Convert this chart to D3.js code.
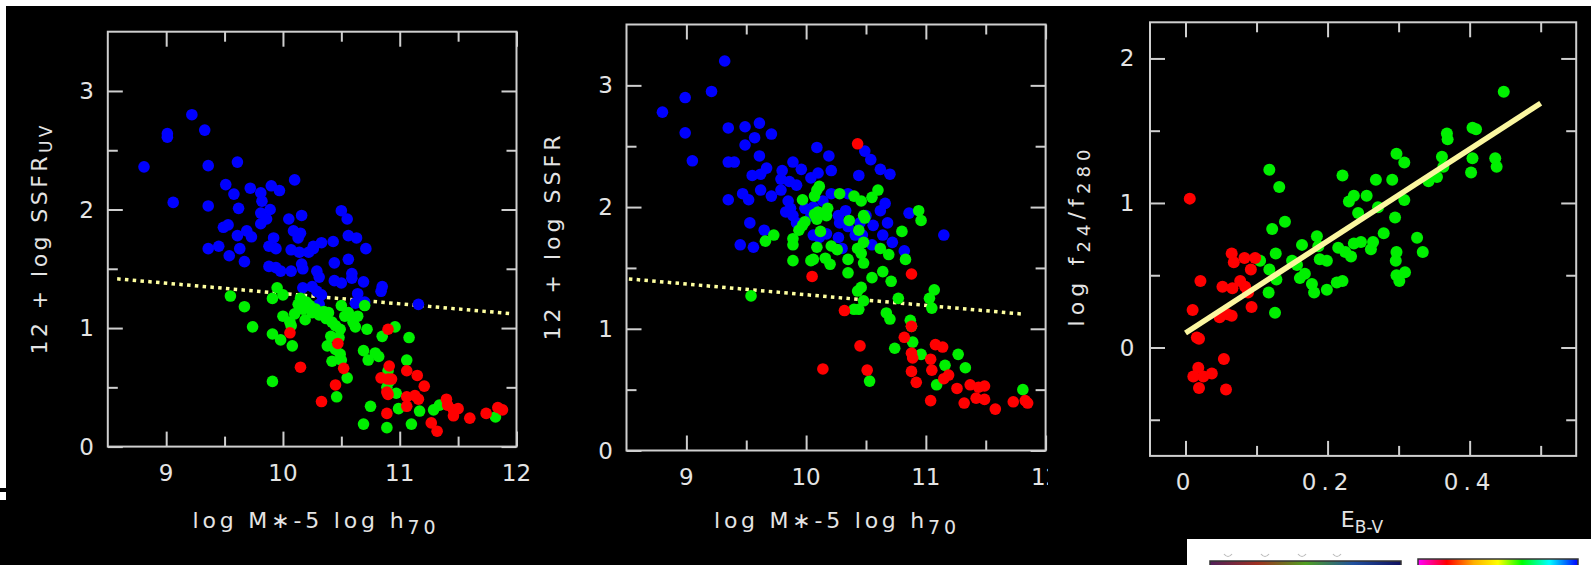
<!DOCTYPE html>
<html>
<head>
<meta charset="utf-8">
<script src="https://cdn.jsdelivr.net/npm/d3@7"></script>
<style>
  html, body { margin: 0; padding: 0; background: #000; }
  svg { display: block; }
  text { font-family: "DejaVu Sans", sans-serif; fill: #e4e4e4; }
</style>
</head>
<body>
<div id="chart"></div>
<script>
// ---- data ----
// panel 1: 12 + log SSFR_UV vs log M*
var p1Blue = [[8.81,2.36],[9.01,2.64],[9.01,2.61],[9.22,2.80],[9.33,2.67],[9.06,2.06],[9.36,2.37],[9.36,2.03],[9.61,2.40],[9.51,2.21],[9.58,2.13],[9.72,2.18],[9.62,2.01],[9.90,2.20],[9.97,2.16],[10.10,2.25],[9.81,2.14],[9.82,2.07],[9.81,1.97],[9.89,2.00],[9.86,1.92],[9.81,1.88],[9.49,1.85],[9.53,1.87],[9.61,1.78],[9.69,1.82],[9.73,1.77],[9.36,1.67],[9.45,1.69],[9.54,1.61],[9.63,1.67],[9.67,1.56],[9.88,1.69],[9.92,1.76],[9.94,1.67],[9.88,1.52],[9.94,1.51],[9.98,1.48],[10.07,1.48],[10.05,1.92],[10.09,1.82],[10.13,1.76],[10.16,1.95],[10.07,1.66],[10.14,1.64],[10.22,1.64],[10.26,1.67],[10.33,1.72],[10.16,1.54],[10.17,1.50],[10.29,1.48],[10.31,1.43],[10.17,1.34],[10.25,1.35],[10.29,1.31],[10.33,1.28],[10.43,1.73],[10.44,1.55],[10.50,1.99],[10.55,1.92],[10.56,1.78],[10.63,1.76],[10.56,1.58],[10.59,1.46],[10.59,1.42],[10.44,1.40],[10.50,1.38],[10.71,1.67],[10.69,1.39],[10.64,1.29],[10.85,1.35],[10.84,1.31],[11.16,1.20],[10.70,1.22],[10.26,1.69],[10.15,1.80],[10.31,1.20],[10.62,1.21],[10.69,1.21]];
var p1Green = [[9.55,1.27],[9.67,1.18],[9.74,1.01],[9.91,0.95],[9.98,0.90],[10.08,0.85],[9.91,0.55],[9.91,1.25],[9.95,1.34],[10.00,1.28],[10.00,1.10],[10.06,1.05],[10.07,1.02],[10.13,1.20],[10.15,1.25],[10.17,1.16],[10.19,1.07],[10.23,1.19],[10.25,1.13],[10.31,1.11],[10.35,1.14],[10.39,1.13],[10.42,1.05],[10.45,1.02],[10.50,1.19],[10.53,1.10],[10.56,1.13],[10.49,0.99],[10.48,0.92],[10.41,0.93],[10.38,0.85],[10.45,0.82],[10.49,0.78],[10.50,0.73],[10.42,0.72],[10.55,0.58],[10.46,0.42],[10.62,1.01],[10.64,1.10],[10.70,1.19],[10.72,0.99],[10.69,0.81],[10.73,0.73],[10.79,0.79],[10.82,0.76],[10.85,0.93],[10.96,1.01],[11.08,0.92],[11.06,0.73],[10.90,0.64],[10.91,0.55],[10.97,0.45],[10.99,0.32],[10.75,0.34],[10.69,0.19],[10.89,0.16],[11.10,0.19],[11.17,0.30],[11.29,0.31],[11.34,0.35],[11.82,0.25],[10.10,1.12],[10.20,1.22],[10.28,1.16],[10.37,1.08],[10.60,1.05],[10.89,0.50]];
var p1Red = [[10.06,0.96],[10.15,0.67],[10.33,0.38],[10.45,0.52],[10.47,0.87],[10.52,0.66],[10.90,0.99],[10.91,0.68],[10.84,0.58],[10.90,0.57],[10.93,0.57],[10.89,0.46],[10.90,0.44],[10.89,0.28],[11.06,0.64],[11.15,0.60],[11.21,0.51],[11.06,0.42],[11.13,0.43],[11.06,0.34],[11.16,0.40],[11.27,0.20],[11.32,0.13],[11.40,0.40],[11.41,0.35],[11.46,0.31],[11.50,0.32],[11.46,0.26],[11.60,0.24],[11.74,0.28],[11.84,0.33],[11.88,0.31]];
var p1Cut = [[8.58,1.415],[11.97,1.12]];

// panel 2: 12 + log SSFR vs log M*
var p2Blue = [[8.80,2.78],[8.99,2.90],[8.99,2.61],[9.05,2.38],[9.21,2.95],[9.32,3.20],[9.35,2.65],[9.35,2.37],[9.40,2.37],[9.35,2.06],[9.49,2.66],[9.49,2.51],[9.57,2.57],[9.61,2.69],[9.71,2.60],[9.61,2.42],[9.55,2.26],[9.62,2.27],[9.67,2.32],[9.62,2.14],[9.47,2.11],[9.52,2.06],[9.71,2.09],[9.53,1.87],[9.65,1.81],[9.45,1.69],[9.56,1.67],[9.80,2.30],[9.79,2.23],[9.89,2.37],[9.96,2.31],[9.86,2.21],[9.92,2.18],[9.79,2.14],[9.85,2.05],[9.87,1.99],[9.83,1.96],[9.89,1.93],[9.92,1.87],[10.09,2.49],[10.19,2.42],[10.04,2.24],[10.10,2.28],[10.21,2.30],[10.44,2.26],[10.49,2.46],[10.54,2.39],[10.62,2.31],[10.70,2.27],[10.86,1.95],[11.15,1.77],[10.82,1.64],[10.72,1.71],[10.64,1.77],[10.68,1.87],[10.62,1.97],[10.66,2.03],[10.56,1.85],[10.50,1.93],[10.41,1.77],[10.35,1.84],[10.28,1.87],[10.33,1.97],[10.27,1.93],[10.17,1.78],[10.11,1.75],[10.06,1.77],[10.27,1.75],[10.30,1.66],[10.04,1.93],[10.14,2.05],[10.21,2.11],[10.35,2.11],[10.45,1.87],[10.47,1.77],[10.55,1.69],[9.99,1.99],[10.06,2.00]];
var p2Green = [[9.54,1.27],[9.66,1.72],[9.73,1.77],[9.89,1.69],[9.89,1.74],[9.89,1.56],[9.97,2.06],[9.94,1.81],[9.97,1.85],[9.99,1.88],[10.04,1.56],[10.06,1.57],[10.09,2.14],[10.07,2.09],[10.11,2.17],[10.07,1.94],[10.09,1.90],[10.10,1.96],[10.12,1.80],[10.09,1.67],[10.16,1.58],[10.20,1.53],[10.18,1.99],[10.17,1.93],[10.21,1.68],[10.26,1.65],[10.28,2.11],[10.35,1.57],[10.35,1.46],[10.36,1.89],[10.40,2.09],[10.46,2.05],[10.44,1.81],[10.43,1.66],[10.48,1.93],[10.49,1.91],[10.48,1.71],[10.46,1.62],[10.48,1.54],[10.55,2.08],[10.60,2.14],[10.62,1.66],[10.69,1.61],[10.64,1.47],[10.55,1.42],[10.71,1.39],[10.46,1.34],[10.43,1.31],[10.48,1.23],[10.40,1.16],[10.44,1.16],[10.77,1.25],[10.67,1.13],[10.70,1.08],[10.74,0.84],[10.87,1.07],[10.88,1.02],[10.89,0.89],[10.96,0.79],[10.53,0.57],[10.80,1.80],[10.83,1.57],[10.94,1.97],[10.96,1.89],[11.03,1.25],[11.07,1.32],[11.05,1.17],[11.16,0.70],[11.09,0.54],[11.27,0.79],[11.33,0.68],[11.81,0.50]];
var p2Red = [[10.43,2.52],[10.05,1.43],[10.32,1.15],[10.14,0.67],[10.45,0.86],[10.51,0.66],[10.88,1.45],[10.82,0.93],[10.88,1.02],[10.88,0.80],[10.89,0.76],[10.88,0.65],[10.92,0.56],[11.04,0.75],[11.05,0.66],[11.08,0.87],[11.14,0.85],[11.15,0.59],[11.19,0.62],[11.04,0.41],[11.26,0.51],[11.32,0.39],[11.37,0.54],[11.44,0.52],[11.49,0.53],[11.42,0.43],[11.49,0.42],[11.58,0.34],[11.73,0.40],[11.83,0.41],[11.85,0.39]];
var p2Cut = [[8.52,1.41],[11.82,1.12]];

// panel 3: log f24/f280 vs E(B-V)
var p3Green = [[0.448,1.77],[0.404,1.52],[0.409,1.51],[0.368,1.48],[0.369,1.44],[0.361,1.32],[0.363,1.25],[0.354,1.18],[0.342,1.15],[0.404,1.31],[0.402,1.21],[0.436,1.31],[0.438,1.25],[0.297,1.34],[0.308,1.28],[0.291,1.16],[0.268,1.16],[0.221,1.19],[0.237,1.05],[0.230,1.01],[0.255,1.05],[0.308,1.02],[0.243,0.93],[0.271,0.97],[0.295,0.90],[0.279,0.79],[0.264,0.73],[0.261,0.68],[0.247,0.73],[0.237,0.72],[0.215,0.69],[0.225,0.66],[0.233,0.63],[0.297,0.66],[0.296,0.60],[0.326,0.76],[0.334,0.66],[0.297,0.50],[0.301,0.46],[0.309,0.52],[0.118,1.23],[0.132,1.11],[0.140,0.87],[0.122,0.82],[0.164,0.71],[0.185,0.77],[0.187,0.70],[0.189,0.61],[0.199,0.60],[0.150,0.60],[0.157,0.57],[0.127,0.65],[0.105,0.60],[0.118,0.54],[0.128,0.47],[0.161,0.48],[0.168,0.51],[0.178,0.44],[0.181,0.38],[0.199,0.40],[0.213,0.45],[0.221,0.46],[0.117,0.38],[0.126,0.24]];
var p3Red = [[0.006,1.03],[0.021,0.46],[0.010,0.26],[0.016,0.07],[0.019,0.06],[0.065,0.65],[0.068,0.59],[0.083,0.62],[0.098,0.62],[0.092,0.54],[0.052,0.42],[0.066,0.41],[0.077,0.46],[0.084,0.42],[0.088,0.38],[0.093,0.28],[0.048,0.21],[0.059,0.23],[0.065,0.22],[0.054,-0.08],[0.057,-0.29],[0.018,-0.14],[0.011,-0.20],[0.025,-0.20],[0.037,-0.18],[0.019,-0.28]];
var p3Fit = [[0.0,0.10],[0.5,1.69]];

var massTicks = [9, 10, 11, 12];
var massMinor = [9.5, 10.5, 11.5];
var ssfrTicks = [0, 1, 2, 3];
var ssfrMinor = [0.5, 1.5, 2.5];
var ebvTicks = [0, 0.2, 0.4];
var ebvMinor = [0.1, 0.3, 0.5];
var ratioTicks = [0, 1, 2];
var ratioMinor = [-0.5, 0.5, 1.5];

// ---- drawing ----
var W = 1591, H = 565;
var BLUE = "#0000ff", GREEN = "#00f000", RED = "#ff0000";
var LINE = "#cfcfcf";

var svg = d3.select("#chart").append("svg")
    .attr("width", W).attr("height", H);
svg.append("rect").attr("width", W).attr("height", H).attr("fill", "#000");

var defs = svg.append("defs");
defs.append("clipPath").attr("id", "clip2")
  .append("rect").attr("x", 530).attr("y", 0).attr("width", 518).attr("height", H);

function panel(opt) {
  var g = svg.append("g");
  if (opt.clip) g.attr("clip-path", "url(#" + opt.clip + ")");

  var x = d3.scaleLinear().domain(opt.xDomain).range([opt.left, opt.right]);
  var y = d3.scaleLinear().domain(opt.yDomain).range([opt.bottom, opt.top]);

  // ticks, pointing inward, all four sides
  function ticks(vals, len) {
    g.append("g").attr("transform", "translate(0," + opt.bottom + ")")
      .call(d3.axisBottom(x).tickValues(vals).tickSize(-len).tickFormat(""));
    g.append("g").attr("transform", "translate(0," + opt.top + ")")
      .call(d3.axisTop(x).tickValues(vals).tickSize(-len).tickFormat(""));
  }
  function yticks(vals, len) {
    g.append("g").attr("transform", "translate(" + opt.left + ",0)")
      .call(d3.axisLeft(y).tickValues(vals).tickSize(-len).tickFormat(""));
    g.append("g").attr("transform", "translate(" + opt.right + ",0)")
      .call(d3.axisRight(y).tickValues(vals).tickSize(-len).tickFormat(""));
  }
  ticks(opt.xTicks, 15); ticks(opt.xMinor, 10);
  yticks(opt.yTicks, 15); yticks(opt.yMinor, 10);
  g.selectAll(".domain").remove();
  g.selectAll(".tick line").attr("stroke", LINE).attr("stroke-width", 2);

  g.append("rect")
    .attr("x", opt.left).attr("y", opt.top)
    .attr("width", opt.right - opt.left).attr("height", opt.bottom - opt.top)
    .attr("fill", "none").attr("stroke", LINE).attr("stroke-width", 2);

  // tick labels
  g.selectAll(".xl").data(opt.xTicks).enter().append("text")
    .attr("x", function(d) { return x(d); })
    .attr("y", opt.bottom + opt.xLabOff)
    .attr("text-anchor", "middle").attr("font-size", 23)
    .attr("letter-spacing", opt.xLabSpacing || 0)
    .text(opt.xFmt);
  g.selectAll(".yl").data(opt.yTicks).enter().append("text")
    .attr("x", opt.left - opt.yLabPad)
    .attr("y", function(d) { return y(d) + 8; })
    .attr("text-anchor", "end").attr("font-size", 23)
    .text(function(d) { return d; });

  // reference line
  if (opt.line) {
    g.append("path")
      .attr("d", d3.line().x(function(d) { return x(d[0]); }).y(function(d) { return y(d[1]); })(opt.line))
      .attr("fill", "none").attr("stroke", opt.lineColor)
      .attr("stroke-width", opt.lineWidth)
      .attr("stroke-dasharray", opt.lineDash || null);
  }

  // points
  opt.series.forEach(function(s) {
    g.append("g").selectAll("circle").data(s.data).enter().append("circle")
      .attr("cx", function(d) { return x(d[0]); })
      .attr("cy", function(d) { return y(d[1]); })
      .attr("r", opt.r).attr("fill", s.color);
  });
  if (opt.lineOnTop) g.node().appendChild(g.select("path").node());

  // axis titles
  var xt = g.append("text")
    .attr("x", opt.xTitle.x).attr("y", opt.xTitle.y)
    .attr("text-anchor", "middle").attr("font-size", 22);
  opt.xTitle.parts.forEach(function(p) {
    xt.append("tspan").attr("font-size", p.sub ? p.size : null)
      .attr("dy", p.dy || 0).text(p.t);
  });
  if (opt.xTitle.len) xt.attr("textLength", opt.xTitle.len).attr("lengthAdjust", "spacing");

  var yt = g.append("text")
    .attr("transform", "translate(" + opt.yTitle.x + "," + opt.yTitle.y + ") rotate(-90)")
    .attr("text-anchor", "middle").attr("font-size", 22)
    .attr("textLength", opt.yTitle.len).attr("lengthAdjust", "spacing");
  opt.yTitle.parts.forEach(function(p) {
    yt.append("tspan").attr("font-size", p.sub ? p.size : null)
      .attr("dy", p.dy || 0).text(p.t);
  });
}

panel({
  left: 107.8, right: 516.5, top: 31.7, bottom: 446.6,
  xDomain: [8.5, 12], yDomain: [0, 3.5],
  xTicks: massTicks, xMinor: massMinor, yTicks: ssfrTicks, yMinor: ssfrMinor,
  xFmt: function(d) { return d; }, xLabOff: 34, yLabPad: 14, r: 5.8,
  line: p1Cut, lineColor: "#ffffa0", lineWidth: 3.5, lineDash: "3.5,4.3",
  series: [{data: p1Blue, color: BLUE}, {data: p1Green, color: GREEN}, {data: p1Red, color: RED}],
  xTitle: {x: 314, y: 528, len: 243, parts: [{t: "log M\u2217-5 log h"}, {t: "70", sub: true, size: 19, dy: 6}]},
  yTitle: {x: 46.5, y: 240, len: 229, parts: [{t: "12 + log SSFR"}, {t: "UV", sub: true, size: 17, dy: 5}]}
});

panel({
  clip: "clip2",
  left: 626.5, right: 1045.6, top: 24.5, bottom: 450.5,
  xDomain: [8.5, 12], yDomain: [0, 3.5],
  xTicks: massTicks, xMinor: massMinor, yTicks: ssfrTicks, yMinor: ssfrMinor,
  xFmt: function(d) { return d; }, xLabOff: 34, yLabPad: 13.5, r: 5.8,
  line: p2Cut, lineColor: "#ffffa0", lineWidth: 3.5, lineDash: "3.5,4.3",
  series: [{data: p2Blue, color: BLUE}, {data: p2Green, color: GREEN}, {data: p2Red, color: RED}],
  xTitle: {x: 835, y: 528, len: 242, parts: [{t: "log M\u2217-5 log h"}, {t: "70", sub: true, size: 19, dy: 6}]},
  yTitle: {x: 560, y: 238, len: 205, parts: [{t: "12 + log SSFR"}]}
});

panel({
  left: 1150, right: 1576.2, top: 22.3, bottom: 455.9,
  xDomain: [-0.05, 0.55], yDomain: [-0.75, 2.25],
  xTicks: ebvTicks, xMinor: ebvMinor, yTicks: ratioTicks, yMinor: ratioMinor,
  xFmt: function(d) { return d === 0 ? "0" : d3.format(".1f")(d); }, xLabSpacing: 5,
  xLabOff: 34, yLabPad: 15.5, r: 6,
  line: p3Fit, lineColor: "#fbf7a0", lineWidth: 5.5, lineOnTop: true,
  series: [{data: p3Green, color: GREEN}, {data: p3Red, color: RED}],
  xTitle: {x: 1362, y: 527, parts: [{t: "E"}, {t: "B-V", sub: true, size: 17, dy: 6}]},
  yTitle: {x: 1084, y: 238, len: 177, parts: [{t: "log f"}, {t: "24", sub: true, size: 18, dy: 6}, {t: "/f", dy: -6}, {t: "280", sub: true, size: 18, dy: 6}]}
});

// scan borders
svg.append("rect").attr("x", 0).attr("y", 0).attr("width", W).attr("height", 6).attr("fill", "#fff");
svg.append("rect").attr("x", 0).attr("y", 0).attr("width", 6).attr("height", 488).attr("fill", "#fff");
svg.append("rect").attr("x", 0).attr("y", 492).attr("width", 6).attr("height", 8).attr("fill", "#fff");

// piece of the next figure, bottom right
svg.append("rect").attr("x", 1187).attr("y", 539).attr("width", W - 1187).attr("height", H - 539).attr("fill", "#fff");
var g1 = defs.append("linearGradient").attr("id", "cb1");
[["0%", "#50205a"], ["25%", "#a03020"], ["50%", "#50a020"], ["75%", "#2050a0"], ["100%", "#101060"]]
  .forEach(function(s) { g1.append("stop").attr("offset", s[0]).attr("stop-color", s[1]); });
var g2 = defs.append("linearGradient").attr("id", "cb2");
[["0%", "#ff00ff"], ["18%", "#ff0000"], ["35%", "#ffb000"], ["50%", "#ffff00"], ["65%", "#00ff00"], ["82%", "#00ffff"], ["100%", "#0000ff"]]
  .forEach(function(s) { g2.append("stop").attr("offset", s[0]).attr("stop-color", s[1]); });
svg.append("rect").attr("x", 1210).attr("y", 561).attr("width", 191).attr("height", 8)
  .attr("fill", "url(#cb1)").attr("stroke", "#333").attr("stroke-width", 1.5);
svg.append("rect").attr("x", 1418).attr("y", 559).attr("width", 160).attr("height", 10)
  .attr("fill", "url(#cb2)").attr("stroke", "#333").attr("stroke-width", 1.5);
[1228, 1265, 1302, 1337].forEach(function(cx) {
  svg.append("path").attr("d", "M" + (cx - 4) + ",554 Q" + cx + ",559 " + (cx + 4) + ",554")
    .attr("fill", "none").attr("stroke", "#bbb").attr("stroke-width", 1.2);
});
</script>
</body>
</html>
